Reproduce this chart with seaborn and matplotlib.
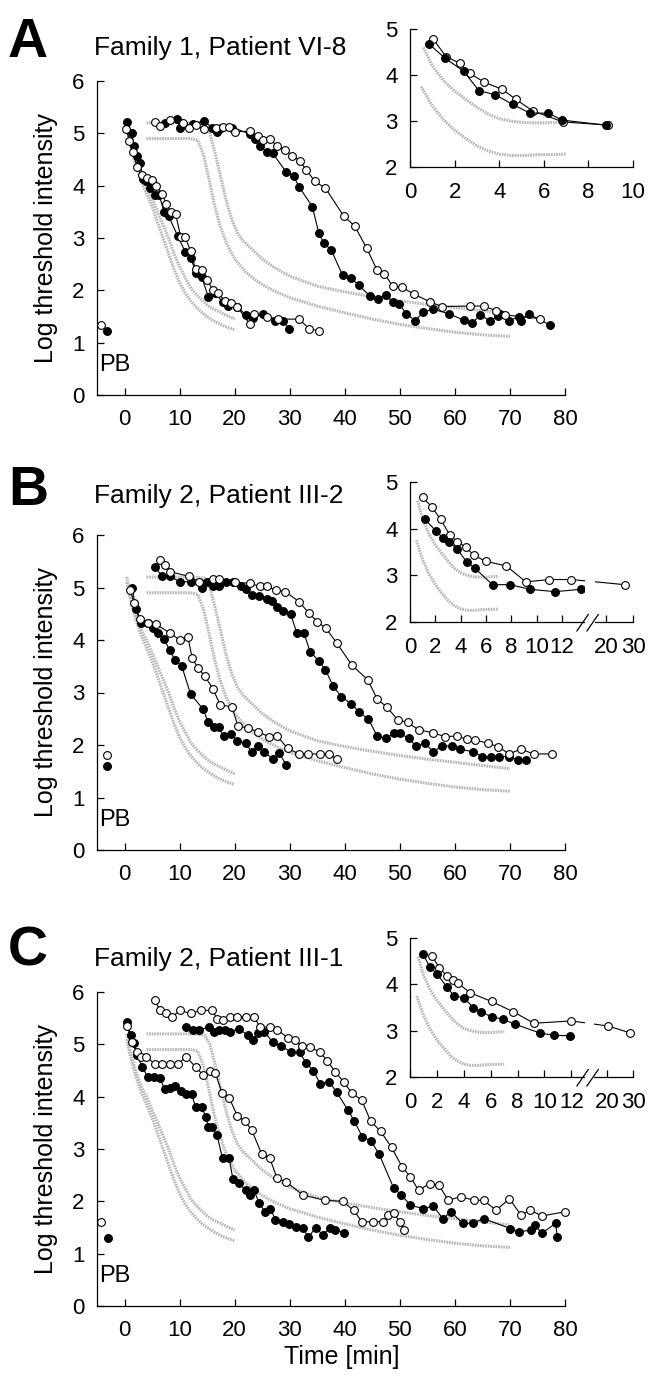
import numpy as np
import seaborn as sns
import matplotlib.pyplot as plt
from matplotlib.patches import Rectangle

### Normal range (grey) curves, identical on all three panels ###
grey_s1_x = [0.4, 1, 2, 3, 4, 5, 6, 7, 8, 9, 10, 11, 12, 13, 14, 15, 16, 17, 18, 19, 20]
grey_s1_y = [5.2, 4.9, 4.5, 4.2, 4.0, 3.75, 3.5, 3.25, 3.0, 2.7, 2.45, 2.25, 2.05, 1.92, 1.82, 1.72, 1.65, 1.6, 1.55, 1.5, 1.45]
grey_s2_x = [0.4, 1, 2, 3, 4, 5, 6, 7, 8, 9, 10, 11, 12, 13, 14, 15, 16, 17, 18, 19, 20]
grey_s2_y = [5.1, 4.8, 4.4, 4.1, 3.85, 3.6, 3.3, 3.0, 2.7, 2.4, 2.15, 1.95, 1.8, 1.68, 1.58, 1.5, 1.43, 1.37, 1.32, 1.28, 1.25]
grey_l1_x = [4, 8, 12, 14.5, 15.5, 16.5, 17.5, 18.5, 19.5, 20.5, 21.5, 23, 25, 27, 30, 35, 40, 45, 50, 55, 60, 65, 70]
grey_l1_y = [5.2, 5.2, 5.2, 5.18, 5.0, 4.6, 4.15, 3.7, 3.35, 3.1, 2.95, 2.8, 2.6, 2.45, 2.27, 2.08, 1.97, 1.88, 1.8, 1.73, 1.67, 1.61, 1.55]
grey_l2_x = [4, 8, 12, 13.3, 14.3, 15.3, 16.3, 17.3, 18.5, 20, 22, 24, 26, 28, 30, 35, 40, 45, 50, 55, 60, 65, 70]
grey_l2_y = [4.9, 4.9, 4.9, 4.87, 4.6, 4.15, 3.65, 3.25, 2.9, 2.6, 2.35, 2.18, 2.05, 1.95, 1.86, 1.7, 1.57, 1.45, 1.35, 1.27, 1.2, 1.15, 1.12]
# inset (first minutes)
grey_i1_x = [0.6, 1.0, 1.5, 2.0, 2.5, 3.0, 3.5, 4.0, 4.5, 5.0, 5.5, 6.0, 6.5, 7.0]
grey_i1_y = [4.6, 4.2, 3.88, 3.65, 3.47, 3.3, 3.15, 3.05, 3.0, 2.97, 2.96, 2.96, 2.97, 2.98]
grey_i2_x = [0.5, 1.0, 1.5, 2.0, 2.5, 3.0, 3.5, 4.0, 4.5, 5.0, 5.5, 6.0, 6.5, 7.0]
grey_i2_y = [3.75, 3.33, 3.03, 2.8, 2.62, 2.46, 2.35, 2.28, 2.25, 2.25, 2.26, 2.27, 2.27, 2.28]

### Panel A: Family 1, Patient VI-8 ###
a_pb_x = [-4.2, -3.2]          # open, filled
a_pb_y = [1.33, 1.22]
a_fill1_x = [0.5, 1.3, 1.7, 2.3, 2.8, 3.4, 3.9, 4.7, 5.5, 6.3, 7.2, 8.0, 9.7, 11.0, 12.0, 13.0, 14.0, 15.2, 16.5, 17.8,
             18.8, 20.5, 22.0, 23.3, 25.2, 27.3, 28.8, 29.9]
a_fill1_y = [5.22, 5.01, 4.76, 4.57, 4.43, 4.13, 4.08, 3.96, 3.82, 3.82, 3.49, 3.42, 3.03, 2.74, 2.62, 2.34, 2.26, 1.88,
             1.94, 1.78, 1.70, 1.69, 1.53, 1.48, 1.54, 1.42, 1.42, 1.27]
a_open1_x = [0.3, 0.9, 1.5, 2.3, 3.1, 4.0, 4.9, 5.8, 6.8, 7.6, 8.4, 9.3, 10.2, 11.0, 12.0, 12.9, 14.0, 15.0, 16.1, 17.0,
             18.2, 19.3, 20.5, 22.8, 23.6, 25.8, 27.9, 31.7, 33.5, 35.3]
a_open1_y = [5.08, 4.85, 4.65, 4.35, 4.2, 4.15, 4.1, 4.0, 3.85, 3.65, 3.5, 3.45, 3.02, 3.02, 2.75, 2.4, 2.38, 2.2, 2.0,
             1.95, 1.8, 1.75, 1.68, 1.35, 1.55, 1.5, 1.45, 1.45, 1.27, 1.22]
a_fill2_x = [7.4, 9.6, 10.0, 12.4, 14.4, 15.9, 16.8, 17.6, 19.6, 22.7, 23.7, 24.6, 25.8, 26.9, 29.3, 30.7, 31.7, 34.1,
             35.3, 36.2, 37.5, 39.6, 41.1, 42.5, 44.6, 46.1, 47.4, 48.7, 49.9, 51.2, 52.8, 54.2, 56.0, 59.0, 61.6,
             63.1, 64.6, 66.3, 67.9, 68.2, 69.9, 71.6, 72.0, 73.4, 77.2]
a_fill2_y = [5.2, 5.27, 5.11, 5.18, 5.24, 5.11, 5.03, 5.1, 5.11, 4.99, 4.89, 4.75, 4.65, 4.62, 4.27, 4.18, 3.98, 3.6,
             3.09, 2.9, 2.78, 2.29, 2.24, 2.1, 1.89, 1.83, 1.92, 1.78, 1.74, 1.55, 1.42, 1.58, 1.64, 1.55, 1.43,
             1.37, 1.53, 1.42, 1.51, 1.54, 1.42, 1.5, 1.42, 1.55, 1.34]
a_open2_x = [5.5, 6.4, 8.3, 10.6, 11.8, 12.9, 14.4, 16.7, 17.8, 19.0, 20.1, 22.7, 24.3, 25.2, 26.4, 27.7, 29.2, 30.5,
             31.8, 33.0, 34.6, 36.5, 39.8, 41.8, 44.0, 45.9, 47.2, 48.7, 50.4, 52.5, 55.5, 57.6, 62.8, 65.2, 67.5,
             69.1, 75.4]
a_open2_y = [5.22, 5.14, 5.25, 5.19, 5.1, 5.16, 5.08, 5.1, 5.13, 5.13, 5.03, 5.04, 4.94, 4.87, 4.89, 4.76, 4.68, 4.57,
             4.48, 4.3, 4.08, 3.95, 3.42, 3.23, 2.8, 2.38, 2.32, 2.08, 2.06, 1.93, 1.78, 1.69, 1.7, 1.7, 1.61,
             1.53, 1.46]
a_in_fill_x = [0.86, 1.56, 2.41, 3.09, 3.82, 4.61, 5.38, 6.21, 6.81, 8.8]
a_in_fill_y = [4.67, 4.37, 4.08, 3.66, 3.57, 3.36, 3.17, 3.17, 3.02, 2.91]
a_in_open_x = [1.04, 1.63, 2.23, 2.67, 3.34, 4.13, 4.75, 5.5, 6.86, 8.89]
a_in_open_y = [4.78, 4.39, 4.26, 4.04, 3.84, 3.69, 3.47, 3.22, 2.98, 2.91]

### Panel B: Family 2, Patient III-2 ###
b_pb_x = [-3.2, -3.2]
b_pb_y = [1.81, 1.6]
b_fill1_x = [1.4, 2.0, 3.0, 4.2, 5.2, 6.1, 7.2, 8.2, 9.2, 10.4, 12.0, 14.3, 15.2, 16.3, 17.1, 18.0, 19.3, 20.5, 22.0,
             23.1, 24.3, 25.4, 26.9, 28.1, 29.4]
b_fill1_y = [5.0, 4.6, 4.32, 4.32, 4.22, 4.14, 4.01, 3.81, 3.61, 3.5, 2.97, 2.68, 2.43, 2.34, 2.34, 2.17, 2.21, 2.08,
             2.03, 1.87, 1.99, 1.87, 1.73, 1.84, 1.62]
b_open1_x = [1.0, 1.8, 2.8, 4.2, 5.7, 8.3, 10.0, 11.5, 12.3, 13.4, 14.6, 16.1, 17.4, 19.5, 20.6, 22.5, 24.3, 26.2,
             27.7, 29.6, 31.7, 33.4, 35.5, 37.1, 38.5]
b_open1_y = [4.95, 4.7, 4.4, 4.32, 4.3, 4.13, 4.0, 4.06, 3.65, 3.46, 3.31, 3.06, 2.76, 2.73, 2.36, 2.32, 2.25, 2.16,
             2.17, 1.94, 1.83, 1.83, 1.83, 1.83, 1.73]
b_fill2_x = [5.5, 6.8, 8.3, 10.0, 12.1, 14.0, 15.0, 16.1, 17.2, 18.4, 19.7, 21.1, 22.0, 23.1, 24.4, 25.8, 26.8, 27.7,
             28.8, 30.2, 31.3, 32.6, 33.7, 35.3, 36.5, 37.9, 39.4, 41.2, 42.6, 44.3, 45.9, 47.4, 48.9, 50.0, 51.6,
             52.9, 54.6, 56.1, 57.6, 59.5, 61.0, 63.3, 65.0, 66.5, 68.1, 69.9, 71.5, 72.9]
b_fill2_y = [5.4, 5.21, 5.21, 5.11, 5.11, 5.0, 5.11, 5.02, 5.02, 5.11, 5.11, 5.02, 4.98, 4.86, 4.84, 4.78, 4.75, 4.63,
             4.55, 4.49, 4.13, 4.13, 3.78, 3.6, 3.43, 3.12, 2.92, 2.78, 2.63, 2.49, 2.17, 2.13, 2.22, 2.22, 2.13,
             1.98, 2.03, 1.87, 1.98, 1.98, 1.92, 1.87, 1.78, 1.78, 1.78, 1.78, 1.71, 1.71]
b_open2_x = [6.4, 7.4, 8.3, 11.8, 13.5, 16.1, 17.1, 20.0, 22.7, 24.6, 25.8, 27.5, 29.2, 31.7, 33.5, 35.0, 36.6, 38.5,
             41.3, 44.2, 45.9, 47.6, 49.6, 51.4, 53.4, 56.1, 58.2, 60.3, 62.2, 63.7, 66.0, 67.9, 69.8, 72.0, 74.3,
             77.7]
b_open2_y = [5.52, 5.43, 5.3, 5.21, 5.11, 5.17, 5.16, 5.1, 5.08, 5.02, 5.02, 4.95, 4.92, 4.73, 4.51, 4.35, 4.22, 3.95,
             3.52, 3.24, 2.87, 2.73, 2.48, 2.43, 2.29, 2.23, 2.16, 2.17, 2.11, 2.1, 2.03, 1.97, 1.83, 1.92, 1.83,
             1.83]
b_in_fill_x = [1.18, 2.05, 2.57, 3.1, 3.73, 4.46, 5.12, 6.51, 7.87, 9.5, 11.44, 13.46]
b_in_fill_y = [4.2, 3.95, 3.81, 3.71, 3.56, 3.29, 3.15, 2.8, 2.8, 2.7, 2.65, 2.7]
b_in_open_x = [1.0, 1.71, 2.41, 3.15, 3.73, 4.41, 5.04, 5.98, 7.61, 9.13, 11.0, 12.73, 26.9]
b_in_open_y = [4.67, 4.47, 4.2, 3.86, 3.72, 3.6, 3.43, 3.3, 3.2, 2.86, 2.91, 2.91, 2.8]

### Panel C: Family 2, Patient III-1 ###
c_pb_x = [-4.2, -3.0]
c_pb_y = [1.61, 1.29]
c_fill1_x = [0.5, 1.1, 1.7, 2.3, 3.2, 4.2, 5.3, 6.4, 7.3, 8.3, 9.1, 10.2, 11.2, 12.2, 12.9, 14.0, 14.8, 15.2, 15.9,
             16.8, 17.8, 19.0, 19.7, 20.8, 22.0, 22.7, 23.5, 24.5, 25.5, 26.5, 27.4, 28.8, 29.9, 31.2, 32.4, 33.4,
             34.7, 36.0, 37.4, 38.3, 39.8]
c_fill1_y = [5.43, 5.17, 5.03, 4.79, 4.57, 4.38, 4.38, 4.35, 4.15, 4.17, 4.2, 4.1, 4.05, 4.05, 3.8, 3.8, 3.61, 3.42,
             3.42, 3.26, 2.82, 2.82, 2.42, 2.35, 2.21, 2.12, 2.21, 1.96, 1.8, 1.86, 1.65, 1.61, 1.56, 1.51, 1.49,
             1.31, 1.5, 1.36, 1.5, 1.45, 1.4]
c_open1_x = [0.5, 1.3, 2.2, 3.0, 3.9, 5.5, 6.8, 8.2, 9.7, 11.2, 12.9, 14.3, 15.5, 16.5, 17.7, 19.0, 20.5, 21.8, 23.1,
             24.9, 26.4, 27.7, 29.4, 32.4, 36.4, 39.6, 41.6, 43.1, 45.1, 47.0, 47.8, 48.9, 50.0, 50.8]
c_open1_y = [5.35, 5.05, 4.85, 4.75, 4.76, 4.63, 4.63, 4.63, 4.63, 4.76, 4.57, 4.41, 4.5, 4.45, 4.07, 3.98, 3.63, 3.54,
             3.36, 2.91, 2.82, 2.44, 2.37, 2.12, 2.02, 2.0, 1.83, 1.61, 1.61, 1.61, 1.74, 1.77, 1.61, 1.45]
c_fill2_x = [11.2, 12.5, 13.5, 15.3, 16.3, 17.1, 18.2, 19.2, 20.8, 22.4, 23.3, 24.3, 25.4, 26.9, 28.4, 30.3, 31.8,
             33.0, 34.3, 35.5, 37.2, 38.5, 40.6, 41.7, 43.2, 44.7, 46.2, 48.9, 50.3, 51.9, 54.2, 56.1, 57.8, 59.3,
             61.4, 63.2, 65.2, 70.1, 71.6, 73.9, 74.5, 75.8, 78.3, 78.6]
c_fill2_y = [5.33, 5.27, 5.27, 5.33, 5.24, 5.28, 5.27, 5.24, 5.3, 5.17, 5.08, 5.22, 5.24, 5.04, 4.97, 4.85, 4.85, 4.64,
             4.5, 4.25, 4.28, 4.09, 3.74, 3.54, 3.23, 3.16, 2.91, 2.25, 2.12, 1.93, 1.86, 1.91, 1.67, 1.8, 1.58,
             1.58, 1.67, 1.48, 1.42, 1.45, 1.55, 1.39, 1.58, 1.32]
c_open2_x = [5.5, 6.4, 7.6, 8.7, 10.0, 12.0, 13.9, 15.9, 16.8, 17.8, 19.1, 20.5, 22.0, 23.5, 24.6, 26.4, 27.7, 29.6,
             30.9, 32.2, 33.7, 35.5, 36.8, 38.3, 39.8, 41.3, 43.1, 44.7, 46.5, 48.5, 50.4, 51.9, 53.4, 55.4, 57.1,
             58.8, 61.1, 63.4, 65.2, 67.5, 69.9, 72.0, 73.7, 75.8, 80.0]
c_open2_y = [5.84, 5.66, 5.59, 5.52, 5.65, 5.59, 5.65, 5.65, 5.49, 5.46, 5.52, 5.52, 5.52, 5.53, 5.33, 5.33, 5.28, 5.13,
             5.08, 4.96, 4.95, 4.85, 4.69, 4.47, 4.28, 4.07, 3.93, 3.53, 3.34, 3.03, 2.66, 2.47, 2.21, 2.34, 2.31,
             2.02, 2.09, 2.02, 2.02, 1.83, 2.05, 1.74, 1.83, 1.72, 1.8]
c_in_fill_x = [0.94, 1.49, 2.03, 2.72, 3.27, 4.01, 4.7, 5.25, 6.06, 6.88, 7.8, 9.65, 10.69, 11.88]
c_in_fill_y = [4.66, 4.37, 4.22, 3.95, 3.75, 3.71, 3.5, 3.41, 3.3, 3.25, 3.14, 2.95, 2.9, 2.89]
c_in_open_x = [1.61, 2.18, 2.77, 3.22, 3.59, 4.46, 6.06, 7.67, 9.21, 12.0, 20.3, 29.0]
c_in_open_y = [4.62, 4.36, 4.17, 4.1, 4.02, 3.82, 3.63, 3.41, 3.16, 3.21, 3.1, 2.95]

main_xticks = [0, 10, 20, 30, 40, 50, 60, 70, 80]
inset_xticks_a = [0, 2, 4, 6, 8, 10]
inset_xticks_bc = [0, 2, 4, 6, 8, 10, 12, 20, 30]

### Seaborn / font setup ###
sns.set_theme(style="white")
plt.rcParams['font.family'] = ['Liberation Sans', 'DejaVu Sans']
plt.rcParams['axes.linewidth'] = 0.9
plt.rcParams['axes.edgecolor'] = 'black'
for key in ['text.color', 'axes.labelcolor', 'xtick.color', 'ytick.color']:
    plt.rcParams[key] = 'black'

W, H = 652, 1381
fig = plt.figure(figsize=(W / 100, H / 100), dpi=100)


def box(left, top, right, bottom):
    return [left / W, 1 - bottom / H, (right - left) / W, (bottom - top) / H]


def grey(ax, xs, ys):
    sns.lineplot(x=xs, y=ys, ax=ax, color='#b8b8b8', lw=2.2, ls=(0, (0.55, 0.3)),
                 estimator=None, sort=False, zorder=1)


def series(ax, xs, ys, filled):
    sns.lineplot(x=xs, y=ys, ax=ax, color='black', lw=0.8, marker='o', ms=5.6,
                 mfc='black' if filled else 'white', mec='black', mew=0.8,
                 estimator=None, sort=False, clip_on=False, zorder=2)


def style_axes(ax, fs=16):
    sns.despine(ax=ax)
    ax.set_facecolor('none')
    ax.tick_params(axis='both', which='both', direction='in', length=5, width=0.9,
                   labelsize=fs, colors='black', bottom=True, left=True)
    ax.tick_params(axis='x', pad=10)
    ax.tick_params(axis='y', pad=9)


def break_fn(x0, p20, p30):
    def fwd(x):
        x = np.asarray(x, dtype=float)
        return np.where(x <= x0, x, np.where(x <= 20, x0 + (x - x0) * (p20 - x0) / (20 - x0),
                                             p20 + (x - 20) * (p30 - p20) / 10))

    def inv(p):
        p = np.asarray(p, dtype=float)
        return np.where(p <= x0, p, np.where(p <= p20, x0 + (p - x0) * (20 - x0) / (p20 - x0),
                                             20 + (p - p20) * 10 / (p30 - p20)))
    return fwd, inv


panels = [
    dict(letter='A', title='Family 1, Patient VI-8', main=(97, 81, 565, 395), inset=(410, 29, 633, 167),
         letter_y=57, title_y=55, pb=(a_pb_x, a_pb_y),
         series=[(a_fill1_x, a_fill1_y, True), (a_open1_x, a_open1_y, False),
                 (a_fill2_x, a_fill2_y, True), (a_open2_x, a_open2_y, False)],
         inset_series=[(a_in_open_x, a_in_open_y, False), (a_in_fill_x, a_in_fill_y, True)],
         brk=None),
    dict(letter='B', title='Family 2, Patient III-2', main=(97, 535, 565, 850), inset=(410, 482, 633, 622),
         letter_y=505, title_y=503, pb=(b_pb_x, b_pb_y),
         series=[(b_fill1_x, b_fill1_y, True), (b_open1_x, b_open1_y, False),
                 (b_fill2_x, b_fill2_y, True), (b_open2_x, b_open2_y, False)],
         inset_series=[(b_in_open_x, b_in_open_y, False), (b_in_fill_x, b_in_fill_y, True)],
         brk=(13.5, 15.49, 17.59, 0.785, 0.830)),
    dict(letter='C', title='Family 2, Patient III-1', main=(97, 992, 565, 1306), inset=(410, 938, 633, 1077),
         letter_y=966, title_y=966, pb=(c_pb_x, c_pb_y),
         series=[(c_fill1_x, c_fill1_y, True), (c_open1_x, c_open1_y, False),
                 (c_fill2_x, c_fill2_y, True), (c_open2_x, c_open2_y, False)],
         inset_series=[(c_in_open_x, c_in_open_y, False), (c_in_fill_x, c_in_fill_y, True)],
         brk=(13.3, 14.68, 16.58, 0.784, 0.824)),
]

for p in panels:
    ### main panel ###
    ax = fig.add_axes(box(*p['main']))
    for gx, gy in [(grey_s1_x, grey_s1_y), (grey_s2_x, grey_s2_y), (grey_l1_x, grey_l1_y), (grey_l2_x, grey_l2_y)]:
        grey(ax, gx, gy)
    for xs, ys, filled in p['series']:
        series(ax, xs, ys, filled)
    pbx, pby = p['pb']
    series(ax, [pbx[0]], [pby[0]], False)
    series(ax, [pbx[1]], [pby[1]], True)
    ax.text(-4.6, 0.45, 'PB', fontsize=17, ha='left', va='baseline')
    ax.set_xlim(-5, 80)
    ax.set_ylim(0, 6)
    ax.set_xticks(main_xticks)
    ax.set_yticks(range(7))
    style_axes(ax)
    ax.set_ylabel('Log threshold intensity', fontsize=18)
    ax.yaxis.set_label_coords(-0.083, 0.5)
    if p['letter'] == 'C':
        ax.set_xlabel('Time [min]', fontsize=18)
        ax.xaxis.set_label_coords(0.523, -0.124)
        ax.xaxis.label.set_va('top')

    fig.text(8 / W, 1 - p['letter_y'] / H, p['letter'], fontsize=40, fontweight='bold', va='baseline')
    fig.text(94 / W, 1 - p['title_y'] / H, p['title'], fontsize=19, va='baseline')

    ### inset: first minutes ###
    ia = fig.add_axes(box(*p['inset']))
    if p['brk'] is not None:
        x0, p20, p30, g0, g1 = p['brk']
        fwd, inv = break_fn(x0, p20, p30)
        ia.set_xscale('function', functions=(fwd, inv))
    for gx, gy in [(grey_i1_x, grey_i1_y), (grey_i2_x, grey_i2_y)]:
        grey(ia, gx, gy)
    for xs, ys, filled in p['inset_series']:
        series(ia, xs, ys, filled)
    if p['brk'] is None:
        ia.set_xlim(0, 10)
        ia.set_xticks(inset_xticks_a)
    else:
        ia.set_xlim(0, 30)
        ia.set_xticks(inset_xticks_bc)
        ia.add_patch(Rectangle((g0, -0.05), g1 - g0, 0.6, transform=ia.transAxes, facecolor='white',
                               edgecolor='none', zorder=2.7, clip_on=False))
        for dx in (0.0, 0.045):
            ia.plot([0.748 + dx, 0.800 + dx], [-0.065, 0.055], transform=ia.transAxes, color='black',
                    lw=0.9, clip_on=False, zorder=3)
    ia.set_ylim(2, 5)
    ia.set_yticks([2, 3, 4, 5])
    style_axes(ia)
    ia.tick_params(axis='x', pad=11)
    ia.set_xlabel('')
    ia.set_ylabel('')

fig.savefig('out.png', dpi=100)
